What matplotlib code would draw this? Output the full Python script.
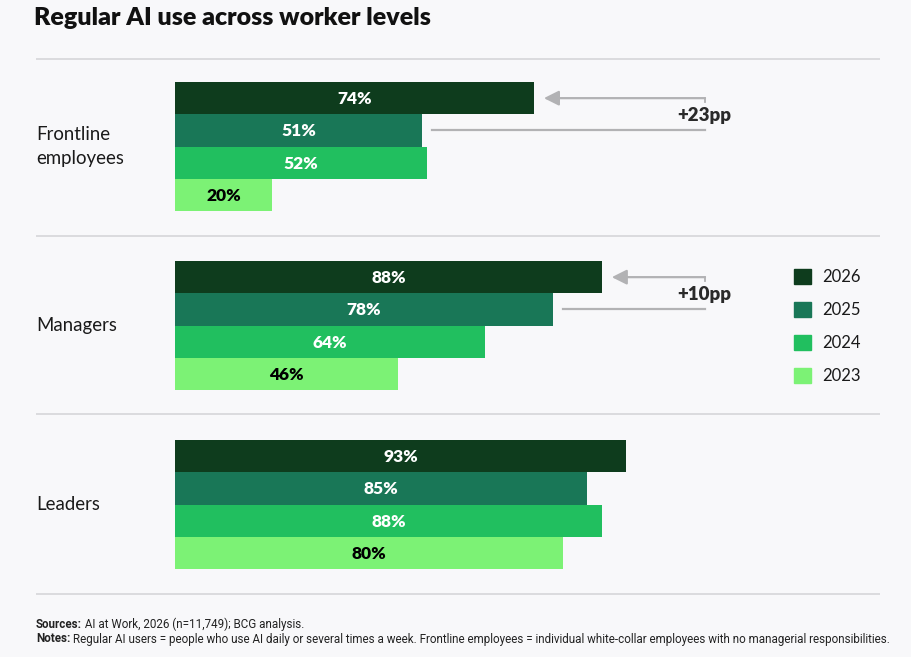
import numpy as np
import matplotlib
matplotlib.use('Agg')
import matplotlib.pyplot as plt
from matplotlib.patches import Rectangle

groups = ['Frontline\nemployees', 'Managers', 'Leaders']
years = ['2026', '2025', '2024', '2023']
vals_2026 = [74, 88, 93]
vals_2025 = [51, 78, 85]
vals_2024 = [52, 64, 88]
vals_2023 = [20, 46, 80]
changes = ['+23pp', '+10pp']

colors = ['#0e3c1d', '#197757', '#21bf5f', '#7cf275']
label_colors = ['white', 'white', 'white', 'black']
bg = '#f8f8fa'

W, H = 911, 657
s = 4.85          # pixels per percentage point
x0 = 175          # pixel where bars start
bar_h = 32.3
group_top = [82, 261, 440]
seps = [59, 236, 414, 594]

plt.rcParams['font.family'] = ['Lato', 'DejaVu Sans']

fig = plt.figure(figsize=(W / 100, H / 100), dpi=100, facecolor=bg)
ax = fig.add_axes([0, 0, 1, 1])
ax.set_facecolor(bg)
ax.set_xlim(-x0 / s, (W - x0) / s)
ax.set_ylim(H, 0)
ax.axis('off')


def px(xp):
    return (xp - x0) / s


series = [vals_2026, vals_2025, vals_2024, vals_2023]
for i, (vals, c, lc) in enumerate(zip(series, colors, label_colors)):
    ys = [g + bar_h * (i + 0.5) for g in group_top]
    ax.barh(ys, vals, height=bar_h, color=c, left=0, label=years[i])
    for y, v in zip(ys, vals):
        ax.text(v / 2, y + 1, f'{v}%', color=lc, ha='center', va='center',
                fontsize=12.5, fontweight='heavy')

for y in seps:
    ax.plot([px(36), px(880)], [y, y], color='#d8d8dc', lw=1.3, solid_capstyle='butt')

for gi, g in enumerate(groups):
    yc = group_top[gi] + 2 * bar_h
    ax.text(px(36), yc, g, ha='left', va='center', fontsize=13.4,
            color='#1a1a1a', linespacing=1.45)

# change annotations
right = px(705)
for gi, lab in enumerate(changes):
    y1 = group_top[gi] + bar_h * 0.5
    y2 = group_top[gi] + bar_h * 1.5
    v1 = vals_2026[gi]
    v2 = vals_2025[gi]
    ax.annotate('', xy=(v1 + 10 / s, y1), xytext=(right, y1),
                arrowprops=dict(arrowstyle='-|>,head_length=0.9,head_width=0.45',
                                color='#b2b2b4', lw=1.6, shrinkA=0, shrinkB=0))
    ax.plot([right, right], [y1, y1 + 4], color='#b2b2b4', lw=1.3)
    ax.plot([v2 + 10 / s, right], [y2, y2], color='#b2b2b4', lw=1.6)
    ax.text(px(731), (y1 + y2) / 2 + 1, lab, ha='right', va='center',
            fontsize=13.5, fontweight='heavy', color='#2a2a2a')

# legend
for i, (yr, c) in enumerate(zip(years, colors)):
    yc = 276 + 33 * i
    ax.add_patch(Rectangle((px(794), yc - 7.5), 17 / s, 15, color=c))
    ax.text(px(822), yc + 1, yr, ha='left', va='center', fontsize=12,
            color='#1a1a1a')

fig.canvas.draw()
r = fig.canvas.get_renderer()

title = fig.text(34 / W, 1 - 18 / H, 'Regular AI use across worker levels', ha='left',
                 va='center', fontsize=16, fontweight='heavy', color='#111111')
tw = title.get_window_extent(renderer=r).width
title.set_fontsize(16 * 398 / tw)

# footnotes
foot_font = ['Roboto', 'DejaVu Sans']
notes = [('Sources:', ' AI at Work, 2026 (n=11,749); BCG analysis.', 624),
         ('Notes:', ' Regular AI users = people who use AI daily or several times a week. '
          'Frontline employees = individual white-collar employees with no managerial '
          'responsibilities.', 639)]
fs = 7.6
# fit the longer note line to the reference width (~860 px)
a = fig.text(0, 0, notes[1][0], fontsize=fs, fontweight='bold', family=foot_font)
b = fig.text(0, 0, notes[1][1], fontsize=fs, family=foot_font)
wsum = a.get_window_extent(renderer=r).width + b.get_window_extent(renderer=r).width
a.remove()
b.remove()
fs = fs * 860 / wsum
for bold, rest, y in notes:
    t = fig.text(36 / W, 1 - y / H, bold, ha='left', va='center', fontsize=fs,
                 fontweight='bold', family=foot_font, color='#222222')
    bb = t.get_window_extent(renderer=r)
    fig.text(bb.x1 / W, 1 - y / H, rest, ha='left', va='center', fontsize=fs,
             family=foot_font, color='#222222')

fig.savefig('out.png', dpi=100, facecolor=bg)
